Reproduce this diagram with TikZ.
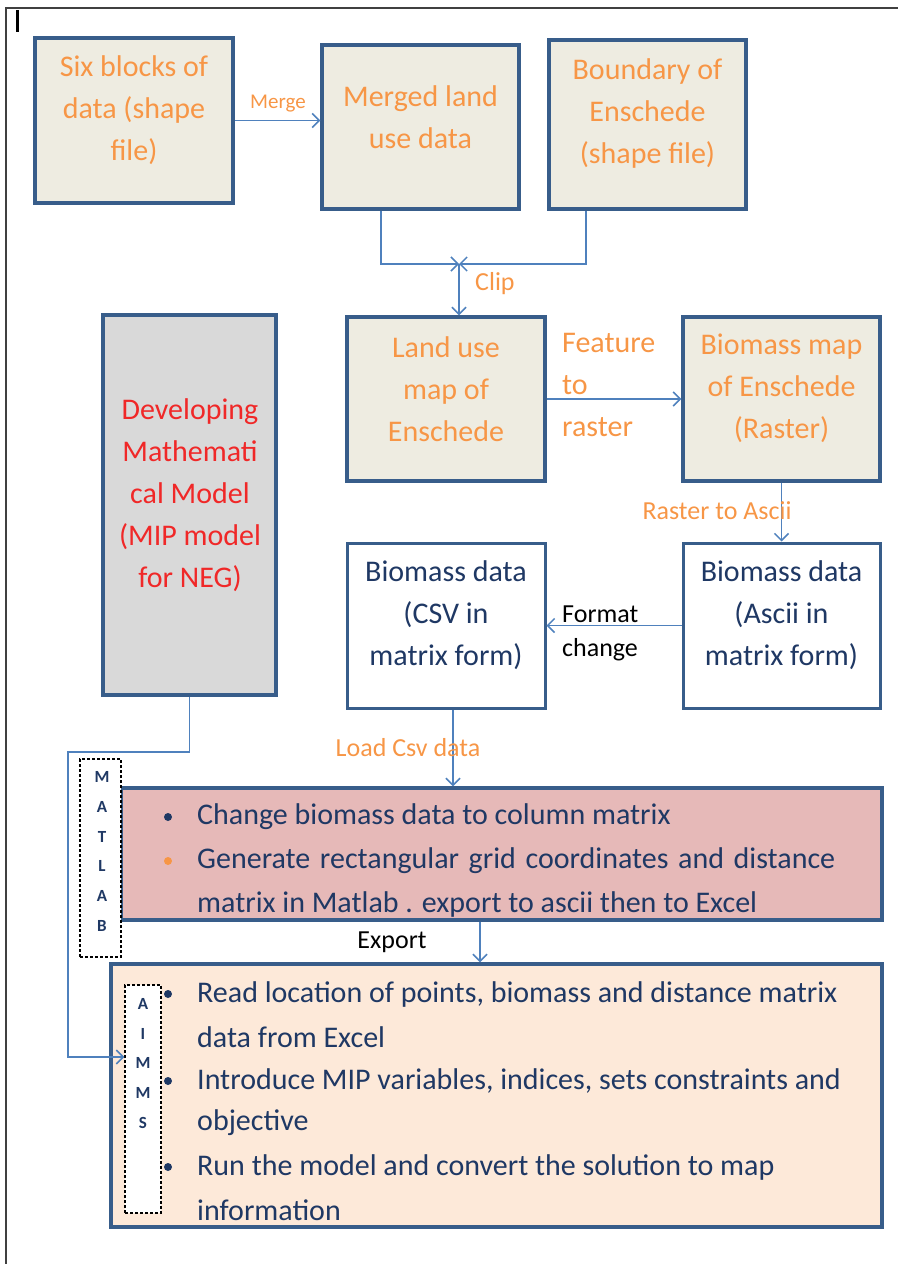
\documentclass[tikz,border=0pt]{standalone}
\usepackage{fontspec}
\setmainfont{Carlito}
\usetikzlibrary{arrows.meta}
\definecolor{boxline}{HTML}{385D8A}
\definecolor{conn}{HTML}{4F81BD}
\definecolor{tanf}{HTML}{EEECE1}
\definecolor{grayf}{HTML}{D9D9D9}
\definecolor{pinkf}{HTML}{E6B9B8}
\definecolor{peachf}{HTML}{FDE9D9}
\definecolor{otxt}{HTML}{F79646}
\definecolor{navy}{HTML}{1F3864}
\definecolor{redtxt}{HTML}{F02828}
\definecolor{framec}{HTML}{404040}
\tikzset{
  box/.style={draw=boxline, line width=3.5pt, inner sep=0pt},
  beigebox/.style={box, fill=tanf},
  orangetext/.style={text=otxt, align=center, font=\fontsize{30}{42}\selectfont},
  navytext/.style={text=navy, align=center, font=\fontsize{30}{42}\selectfont},
  lbl/.style={text=otxt, font=\fontsize{26}{34}\selectfont, inner sep=0pt},
  cline/.style={draw=conn, line width=1.5pt},
  arr/.style={cline, -{Straight Barb[length=7pt,width=14pt]}},
  bullettext/.style={text=navy, anchor=west, inner sep=0pt, font=\fontsize{30}{42}\selectfont},
  dashbox/.style={draw=black, dash pattern=on 3pt off 2pt, line width=1.3pt, fill=white, inner sep=0pt},
  letters/.style={text=navy, align=center, font=\fontsize{17}{29.8}\selectfont\bfseries}
}
\begin{document}
\begin{tikzpicture}[x=1pt,y=-1pt]
\useasboundingbox (0,0) rectangle (898,1264);
% frame
\draw[framec, line width=2pt] (6,1264) -- (6,8) -- (898,8);
\draw[black, line width=3pt] (17,10) -- (17,32);

% top row
\node[beigebox, minimum width=198pt, minimum height=165pt] (six) at (134,120.5) {};
\node[orangetext] at (134,110) {Six blocks of\\data (shape\\file)};
\node[beigebox, minimum width=197pt, minimum height=164pt] (merged) at (420.5,127) {};
\node[orangetext] at (420.5,117.5) {Merged land\\use data};
\node[beigebox, minimum width=197pt, minimum height=169pt] (bound) at (647.5,124.5) {};
\node[orangetext] at (647.5,113) {Boundary of\\Enschede\\(shape file)};

% second row
\node[beigebox, minimum width=198pt, minimum height=164pt] (lu) at (446,399) {};
\node[orangetext] at (446,389) {Land use\\map of\\Enschede};
\node[beigebox, minimum width=197pt, minimum height=164pt] (bm) at (781.5,399) {};
\node[orangetext] at (781.5,388) {Biomass map\\of Enschede\\(Raster)};

% developing
\node[box, fill=grayf, minimum width=173pt, minimum height=380pt] (dev) at (189.5,505) {};
\node[orangetext, text=redtxt] at (190,495) {Developing\\Mathemati\\cal Model\\(MIP model\\for NEG)};

% third row
\node[box, line width=3pt, fill=white, minimum width=198pt, minimum height=165pt] (csv) at (446,625.5) {};
\node[navytext] at (446,615) {Biomass data\\(CSV in\\matrix form)};
\node[box, line width=3pt, fill=white, minimum width=197pt, minimum height=165pt] (ascii) at (781.5,625.5) {};
\node[navytext] at (781.5,615) {Biomass data\\(Ascii in\\matrix form)};

% pink box
\node[box, fill=pinkf, minimum width=761pt, minimum height=132pt] (pink) at (501.5,854) {};
\fill[navy] (168,817) circle (4pt);
\fill[otxt] (168,861) circle (4pt);
\node[bullettext] at (197,817) {Change biomass data to column matrix};
\node[bullettext] at (197,861) {\makebox[638pt][s]{Generate rectangular grid coordinates and distance}};
\node[bullettext] at (197,904) {matrix in Matlab . export to ascii then to Excel};

% MATLAB box
\node[dashbox, minimum width=41pt, minimum height=198pt] (matlab) at (100.5,858) {};
\node[letters] at (102,851.5) {M\\A\\T\\L\\A\\B};

% peach box
\node[box, fill=peachf, minimum width=771pt, minimum height=263pt] (peach) at (496.5,1095.5) {};
\node[dashbox, minimum width=36pt, minimum height=228pt] (aimms) at (143,1099) {};
\node[letters] at (143,1063.5) {A\\I\\M\\M\\S};
\fill[navy] (168,994) circle (4pt);
\fill[navy] (168,1081) circle (4pt);
\fill[navy] (168,1167) circle (4pt);
\node[bullettext] at (197,994) {Read location of points, biomass and distance matrix};
\node[bullettext] at (197,1037) {data from Excel};
\node[bullettext] at (197,1081) {Introduce MIP variables, indices, sets constraints and};
\node[bullettext] at (197,1123) {objective};
\node[bullettext] at (197,1167) {Run the model and convert the solution to map};
\node[bullettext] at (197,1210) {information};

% connectors
\coordinate (cj) at (459,264);
\coordinate (mx) at (381,0);
\coordinate (bx) at (586,0);
\coordinate (loadx) at (453,0);
\coordinate (expx) at (480,0);
\coordinate (lx) at (68,0);

\draw[arr] (six.east) -- (six.east -| merged.west);
\node[lbl, font=\fontsize{21}{26}\selectfont] at (278,104) {Merge};

\draw[arr] (merged.south -| mx) |- (cj);
\draw[arr] (bound.south -| bx) |- (cj);
\draw[arr] (cj) -- (cj |- lu.north);
\node[lbl, anchor=west] at (475,284) {Clip};

\draw[arr] (lu.east) -- (bm.west);
\node[lbl, anchor=west, align=left, font=\fontsize{30}{42}\selectfont] at (562,385) {Feature\\to\\raster};

\draw[arr] (bm.south) -- (ascii.north);
\node[lbl] at (717,511) {Raster to Ascii};

\draw[arr] (ascii.west) -- (csv.east);
\node[lbl, text=black, anchor=west, align=left] at (562,633) {Format\\change};

\draw[arr] (csv.south -| loadx) -- (pink.north -| loadx);
\node[lbl] at (408,748) {Load Csv data};

\draw[arr] (pink.south -| expx) -- (peach.north -| expx);
\node[lbl, text=black] at (392,942) {Export};

\draw[arr] (dev.south) -- (dev.south |- 0,752) -- (lx |- 0,752) -- (lx |- 0,1057) -- (aimms.west |- 0,1057);
\end{tikzpicture}
\end{document}
